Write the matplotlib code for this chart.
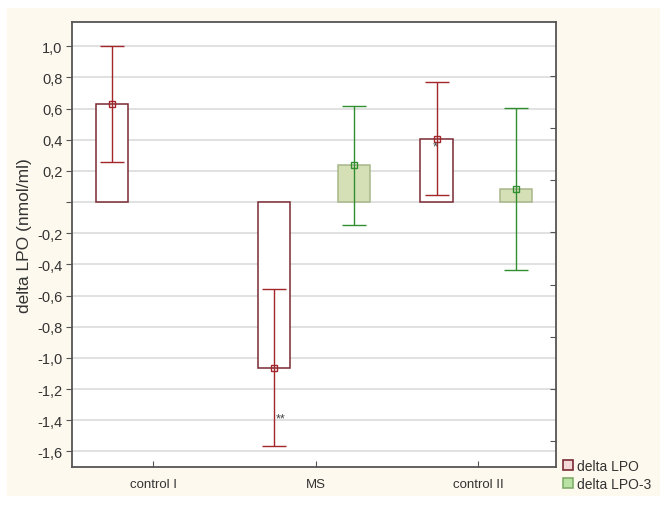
import matplotlib.pyplot as plt
from matplotlib.patches import Rectangle
from matplotlib.lines import Line2D
import numpy as np

# data
groups = ["control I", "MS", "control II"]
lpo_mean = [0.63, -1.065, 0.403]
lpo_low = [0.258, -1.568, 0.043]
lpo_high = [1.0, -0.558, 0.769]
lpo3_mean = [np.nan, 0.237, 0.083]
lpo3_low = [np.nan, -0.149, -0.434]
lpo3_high = [np.nan, 0.617, 0.604]
yticks = [1.0, 0.8, 0.6, 0.4, 0.2, 0.0, -0.2, -0.4, -0.6, -0.8, -1.0, -1.2, -1.4, -1.6]

red_edge = "#7a2a33"
red_err = "#a3262b"
green_fill = "#d5e0b7"
green_edge = "#a8b68a"
green_err = "#2f8f2f"
cream = "#fdf9ee"
txt = "#333333"

plt.rcParams["font.family"] = ["Liberation Sans", "DejaVu Sans"]

fig = plt.figure(figsize=(6.69, 5.06), dpi=100, facecolor="white")
W, H = 669, 506
fig.patches.append(Rectangle((7 / W, 1 - 497 / H), (660 - 7) / W, (497 - 9) / H,
                             transform=fig.transFigure, facecolor=cream, edgecolor="none", zorder=-10))

ax = fig.add_axes([72 / W, 1 - 468 / H, (556 - 72) / W, (468 - 23) / H])
ax.set_facecolor("white")

x = np.arange(len(groups))
bw = 0.2
xr = x - 0.255
xg = x + 0.235

m1 = np.array(lpo_mean)
ax.bar(xr, m1, width=bw, color="white", edgecolor=red_edge, linewidth=1.1, zorder=3)
ax.errorbar(xr, m1, yerr=[m1 - np.array(lpo_low), np.array(lpo_high) - m1],
            fmt="s", ms=5, mfc="none", mec=red_err, mew=1, ecolor=red_err,
            elinewidth=1, capsize=8.5, capthick=1, zorder=4)

m3 = np.array(lpo3_mean)
ax.bar(xg, m3, width=bw, color=green_fill, edgecolor=green_edge, linewidth=1.1, zorder=3)
ax.errorbar(xg, m3, yerr=[m3 - np.array(lpo3_low), np.array(lpo3_high) - m3],
            fmt="s", ms=5, mfc="none", mec=green_err, mew=1, ecolor=green_err,
            elinewidth=1, capsize=8.5, capthick=1, zorder=4)

# significance marks
ax.text(xr[1] + 0.04, -1.39, "**", fontsize=9, color="#444444", ha="center", va="center", zorder=5)
ax.text(xr[2] - 0.01, 0.355, "*", fontsize=9, color="#444444", ha="center", va="center", zorder=5)

ax.set_xlim(-0.5, 2.48)
ax.set_ylim(-1.70, 1.155)
ax.set_yticks(yticks)
ax.set_yticklabels([("" if v == 0 else f"{v:.1f}".replace(".", ",")) for v in yticks])
ax.set_xticks(x)
ax.set_xticklabels(groups)
ax.grid(axis="y", color="#dcdcdc", linewidth=1.2, zorder=0)
ax.set_axisbelow(True)
ax.tick_params(axis="y", direction="out", length=4, color="#555555", labelsize=10.5, labelcolor=txt, pad=3)
ax.tick_params(axis="x", direction="in", length=4, color="#555555", labelsize=9.5, labelcolor=txt, pad=8)
for s in ax.spines.values():
    s.set_color("#555555")
    s.set_linewidth(1.3)

ax2 = ax.twinx()
ax2.set_ylim(ax.get_ylim())
ax2.set_yticks([0.81, 0.475, 0.14, -0.195, -0.53, -0.865, -1.2, -1.535])
ax2.set_yticklabels([])
ax2.tick_params(axis="y", direction="in", length=4, color="#555555")
for s in ax2.spines.values():
    s.set_visible(False)

fig.text(25 / W, 1 - 236 / H, "delta LPO (nmol/ml)", fontsize=12.5, color=txt,
         rotation=90, ha="center", va="center")

handles = [
    Line2D([], [], marker="s", ls="none", ms=7, mfc="#f5d8d8", mec=red_edge, mew=1.2),
    Line2D([], [], marker="s", ls="none", ms=7, mfc="#b9e0a5", mec="#7fae6a", mew=1.2),
]
fig.legend(handles, ["delta LPO", "delta LPO-3"], loc="upper left",
           bbox_to_anchor=(553 / W, 1 - 450 / H), frameon=False, fontsize=10,
           handlelength=0.7, handletextpad=0.3, labelspacing=0.3, borderpad=0.2,
           labelcolor=txt)

plt.savefig("out.png", dpi=100, facecolor="white")
